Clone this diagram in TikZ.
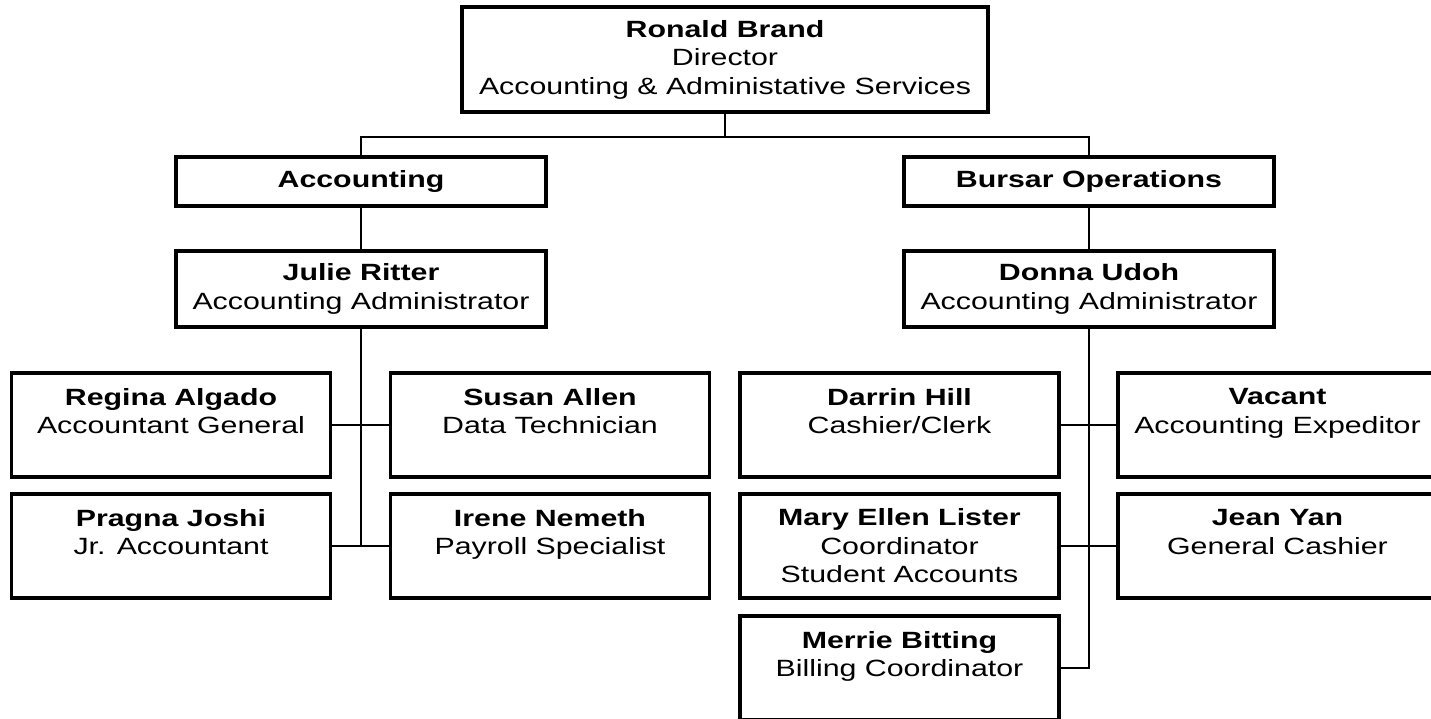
\documentclass[tikz,border=0pt]{standalone}
\usepackage{fontspec}
\setmainfont{Liberation Sans}[FakeStretch=1.29]
\usetikzlibrary{positioning}

\begin{document}
\begin{tikzpicture}[x=1pt,y=1pt,node distance=120pt,auto]
        % Define block styles
        \tikzstyle{block} = [rectangle, draw, line width=3.5pt, align=center, inner sep=0pt, on grid, font=\fontsize{23.5}{28.5}\selectfont]
        \tikzstyle{head} = [block, minimum width=370pt, minimum height=49pt]
        \tikzstyle{boss} = [block, minimum width=370pt, minimum height=76pt]
        \tikzstyle{staff} = [block, minimum width=319pt, minimum height=104pt]
        \tikzstyle{line} = [draw, line width=2.2pt]

        \useasboundingbox (0,0) rectangle (1431,-719);
        \clip (0,0) rectangle (1431,-719);

        % Nodes
        \node [block, minimum width=526pt, minimum height=105pt] (director) at (725,-59.5) {\textbf{Ronald Brand}\\Director\\Accounting \& Administative Services};
        \node [head, below left=122pt and 364pt of director] (accounting) {\textbf{Accounting}};
        \node [head, below right=122pt and 364pt of director] (bursar) {\textbf{Bursar Operations}};
        \node [boss, below=107.5pt of accounting] (ritter) {\textbf{Julie Ritter}\\Accounting Administrator};
        \node [boss, below=107.5pt of bursar] (udoh) {\textbf{Donna Udoh}\\Accounting Administrator};

        \node [staff, below left=136pt and 190pt of ritter] (algado) {\textbf{Regina Algado}\\Accountant General\\~};
        \node [staff, below right=136pt and 189pt of ritter] (allen) {\textbf{Susan Allen}\\Data Technician\\~};
        \node [staff, below=121pt of algado] (joshi) {\textbf{Pragna Joshi}\\Jr. Accountant\\~};
        \node [staff, below=121pt of allen] (nemeth) {\textbf{Irene Nemeth}\\Payroll Specialist\\~};

        \node [staff, below left=136pt and 189.5pt of udoh] (hill) {\textbf{Darrin Hill}\\Cashier/Clerk\\~};
        \node [staff, below right=136pt and 188.5pt of udoh] (vacant) {\textbf{Vacant}\\Accounting Expeditor\\~};
        \node [staff, below=121pt of hill] (lister) {\textbf{Mary Ellen Lister}\\Coordinator\\Student Accounts};
        \node [staff, below=121pt of vacant] (yan) {\textbf{Jean Yan}\\General Cashier\\~};
        \node [staff, below=122pt of lister] (bitting) {\textbf{Merrie Bitting}\\Billing Coordinator\\~};

        % Lines
        \coordinate (bar) at ([yshift=-23pt]director.south);
        \path [line] (director.south) -- (bar);
        \path [line] (accounting.north) |- (bar) -| (bursar.north);
        \path [line] (accounting) -- (ritter);
        \path [line] (bursar) -- (udoh);

        \path [line] (ritter.south) -- (ritter.south |- joshi.east);
        \path [line] (algado.east) -- (allen.west);
        \path [line] (joshi.east) -- (nemeth.west);

        \path [line] (udoh.south) |- (bitting.east);
        \path [line] (hill.east) -- (vacant.west);
        \path [line] (lister.east) -- (yan.west);

    \end{tikzpicture}
\end{document}
